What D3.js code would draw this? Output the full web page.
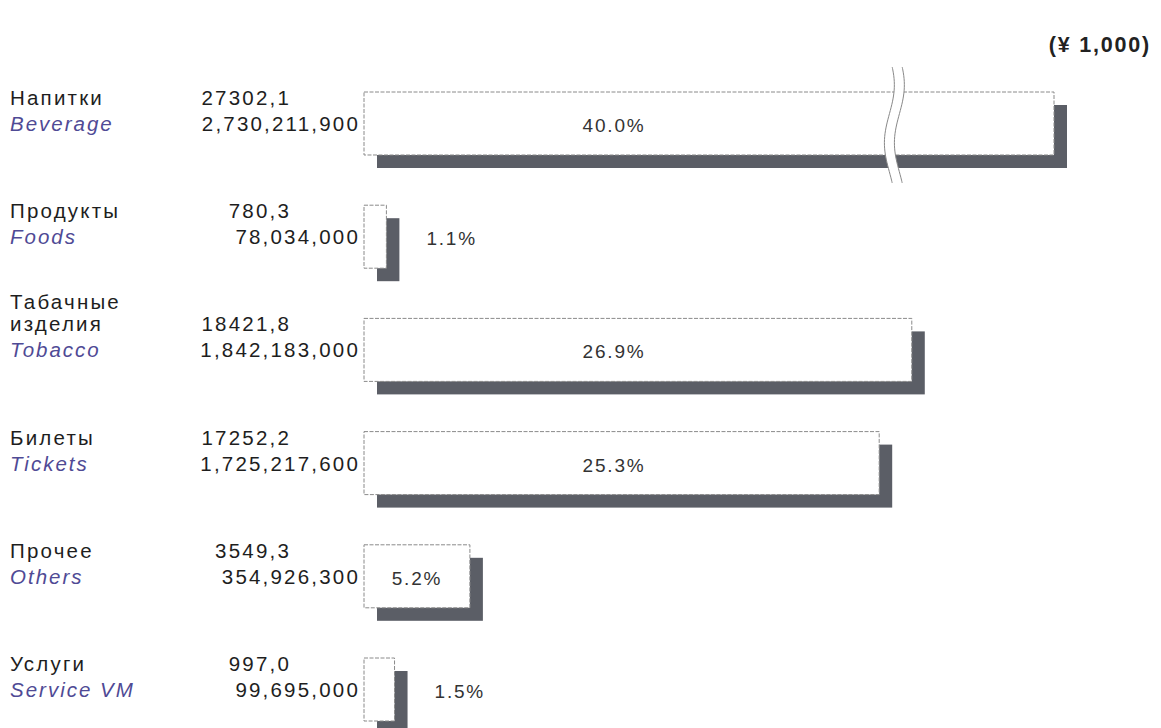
<!DOCTYPE html>
<html><head><meta charset="utf-8">
<script src="https://cdn.jsdelivr.net/npm/d3@7"></script>
<style>
html,body{margin:0;padding:0;background:#fff;}
svg text{font-family:"Liberation Sans",Arial,sans-serif;}
</style></head>
<body>
<svg id="c" width="1161" height="728"></svg>
<script>
// ---- data ----
const categoriesRu = [["Напитки"],["Продукты"],["Табачные","изделия"],["Билеты"],["Прочее"],["Услуги"]];
const categoriesEn = ["Beverage","Foods","Tobacco","Tickets","Others","Service VM"];
const valuesK = ["27302,1","780,3","18421,8","17252,2","3549,3","997,0"];
const valuesYen = [2730211900, 78034000, 1842183000, 1725217600, 354926300, 99695000];
const shares = [40.0, 1.1, 26.9, 25.3, 5.2, 1.5];
const unitLabel = "(¥ 1,000)";
const breakValue = 25.8;   // where the axis break symbol sits

// ---- layout ----
const svg = d3.select("#c");
const x0 = 364;
const x = d3.scaleLinear().domain([0, 27.5, 40]).range([x0, x0 + 560, x0 + 690]);
const y = d3.scaleBand().domain(categoriesEn).range([92, 721]).paddingInner(0.4435).paddingOuter(0);
const bh = y.bandwidth();
const sh = 13; // shadow offset
const fmt = d3.format(",");

svg.append("text").attr("x", 1151).attr("y", 52).attr("text-anchor", "end")
  .attr("font-size", 21.5).attr("font-weight", "bold").attr("fill", "#222").attr("letter-spacing", 1.8)
  .text(unitLabel);

const rows = categoriesEn.map((en, i) => ({en, ru: categoriesRu[i], k: valuesK[i], yen: valuesYen[i], p: shares[i]}));

const g = svg.selectAll("g.row").data(rows).join("g").attr("class", "row");

// shadows
g.append("rect")
  .attr("x", d => x0 + sh).attr("y", d => y(d.en) + sh)
  .attr("width", d => x(d.p) - x0).attr("height", bh)
  .attr("fill", "#5b5e66");
// bars
g.append("rect")
  .attr("x", x0).attr("y", d => y(d.en))
  .attr("width", d => x(d.p) - x0).attr("height", bh)
  .attr("fill", "#fff").attr("stroke", "#8a8a8a").attr("stroke-width", 1)
  .attr("stroke-dasharray", "4,1.5");

// labels
g.each(function(d) {
  const sel = d3.select(this);
  const t = y(d.en);
  const n = d.ru.length;
  d.ru.forEach((line, j) => {
    sel.append("text").attr("x", 10).attr("y", t + 13 - (n - 1 - j) * 22)
      .attr("font-size", 20.5).attr("fill", "#1e1e1e").attr("letter-spacing", 2.2).text(line);
  });
  sel.append("text").attr("x", 10).attr("y", t + 39)
    .attr("font-size", 20.5).attr("font-style", "italic").attr("fill", "#4f4a95").attr("letter-spacing", 2.0).text(d.en);
  sel.append("text").attr("x", 291).attr("y", t + 13).attr("text-anchor", "end")
    .attr("font-size", 20.5).attr("fill", "#1e1e1e").attr("letter-spacing", 2.2).text(d.k);
  sel.append("text").attr("x", 360).attr("y", t + 39).attr("text-anchor", "end")
    .attr("font-size", 20.5).attr("fill", "#1e1e1e").attr("letter-spacing", 2.2).text(fmt(d.yen));
  const w = x(d.p) - x0;
  let lx, anchor;
  if (w < 50) { lx = x(d.p) + sh + 27; anchor = "start"; }
  else { lx = x0 + Math.min(w / 2, 250); anchor = "middle"; }
  sel.append("text").attr("x", lx).attr("y", t + 40).attr("text-anchor", anchor)
    .attr("font-size", 19).attr("fill", "#333").attr("letter-spacing", 1.8).text(d.p.toFixed(1) + "%");
});

// axis break symbol on first bar
const bx = x(breakValue);
const by0 = y(categoriesEn[0]) - 25, by1 = y(categoriesEn[0]) + bh + sh + 15;
const wave = (dx) => d3.range(0, 41).map(k => {
  const tt = k / 40;
  return [bx + dx + 5 * Math.sin(tt * Math.PI * 2 + 0.6), by0 + tt * (by1 - by0)];
});
const left = wave(0), right = wave(10);
const area = left.concat(right.slice().reverse());
svg.append("path").attr("d", d3.line()(area) + "Z").attr("fill", "#fff");
svg.append("path").attr("d", d3.line().curve(d3.curveBasis)(left)).attr("fill", "none").attr("stroke", "#888").attr("stroke-width", 1);
svg.append("path").attr("d", d3.line().curve(d3.curveBasis)(right)).attr("fill", "none").attr("stroke", "#888").attr("stroke-width", 1);
</script>
</body></html>
